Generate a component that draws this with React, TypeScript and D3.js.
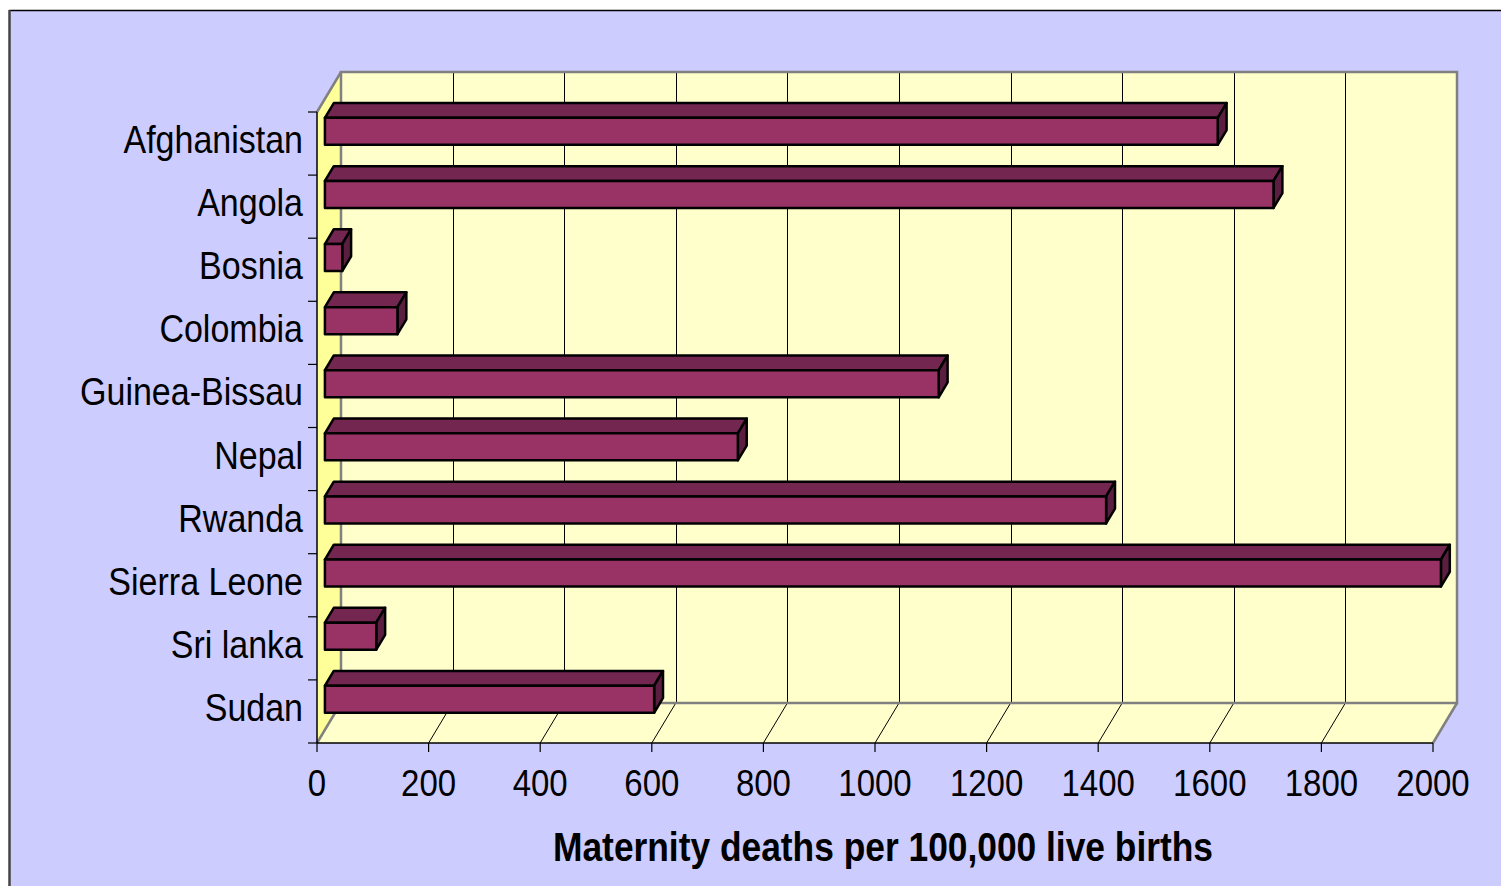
import React from "react";
import * as d3 from "d3";

const countries = [
  "Afghanistan",
  "Angola",
  "Bosnia",
  "Colombia",
  "Guinea-Bissau",
  "Nepal",
  "Rwanda",
  "Sierra Leone",
  "Sri lanka",
  "Sudan",
];
const deaths = [1600, 1700, 31, 130, 1100, 740, 1400, 2000, 92, 590];
const xTicks = [0, 200, 400, 600, 800, 1000, 1200, 1400, 1600, 1800, 2000];
const axisTitle = "Maternity deaths per 100,000 live births";

const width = 1501;
const height = 886;

// 3d depth offset of the plot box (front -> back)
const DX = 24;
const DY = 40;
const Z0 = 0.33;
const Z1 = 0.7;
const HALF = 13.5;

const x = d3.scaleLinear().domain([0, 2000]).range([317, 1433]);
const y = d3.scaleBand().domain(countries).range([112, 743]);

const proj = (v: number, yy: number, z: number): [number, number] => [
  x(v) + z * DX,
  yy - z * DY,
];
const poly = (pts: [number, number][]) =>
  "M" + pts.map((p) => p.join(",")).join("L") + "Z";

const font = "'Liberation Sans', Arial, sans-serif";

const App = () => {
  const x0 = x(0);
  const x1 = x(2000);
  const top = y.range()[0];
  const bottom = y.range()[1];
  const gray = "#808080";

  return (
    <svg
      width={width}
      height={height}
      viewBox={`0 0 ${width} ${height}`}
      style={{ position: "fixed", left: 0, top: 0, background: "#fff" }}
    >
      {/* chart area */}
      <rect x={9} y={10} width={1600} height={1000} fill="#CCCCFF" />
      <line x1={9} y1={10.5} x2={width} y2={10.5} stroke="#000" strokeWidth={1.5} />
      <line x1={9.5} y1={10} x2={9.5} y2={height} stroke="#444" strokeWidth={2.5} />

      {/* walls */}
      <rect x={x0 + DX} y={top - DY} width={x1 - x0} height={bottom - top} fill="#FFFFCC" />
      <path
        d={poly([
          [x0, bottom],
          [x0 + DX, bottom - DY],
          [x1 + DX, bottom - DY],
          [x1, bottom],
        ])}
        fill="#FFFFCC"
      />
      <path
        d={poly([
          [x0, top],
          [x0 + DX, top - DY],
          [x0 + DX, bottom - DY],
          [x0, bottom],
        ])}
        fill="#FFFF99"
      />

      {/* gridlines */}
      {xTicks.slice(1, -1).map((t) => (
        <g key={t}>
          <line
            x1={Math.round(x(t) + DX) + 0.5}
            x2={Math.round(x(t) + DX) + 0.5}
            y1={top - DY}
            y2={bottom - DY}
            stroke="#000"
            strokeWidth={1}
          />
          <line
            x1={x(t) + DX}
            y1={bottom - DY}
            x2={x(t)}
            y2={bottom}
            stroke="#000"
            strokeWidth={1}
          />
        </g>
      ))}

      {/* wall edges */}
      <g stroke={gray} strokeWidth={2.5} fill="none">
        <rect x={x0 + DX} y={top - DY} width={x1 - x0} height={bottom - top} />
        <line x1={x0} y1={top} x2={x0 + DX} y2={top - DY} />
        <line x1={x0} y1={bottom} x2={x0 + DX} y2={bottom - DY} />
        <line x1={x1} y1={bottom} x2={x1 + DX} y2={bottom - DY} />
      </g>

      {/* axes */}
      <line x1={x0} y1={top} x2={x0} y2={bottom} stroke="#000" strokeWidth={1.5} />
      <line x1={x0} y1={bottom} x2={x1} y2={bottom} stroke="#000" strokeWidth={1.5} />
      {xTicks.map((t) => (
        <line key={t} x1={x(t)} x2={x(t)} y1={bottom} y2={bottom + 9} stroke="#000" strokeWidth={1.2} />
      ))}
      {countries.map((c) => (
        <line key={c} x1={x0 - 9} x2={x0} y1={y(c)!} y2={y(c)!} stroke="#000" strokeWidth={1.2} />
      ))}
      <line x1={x0 - 9} x2={x0} y1={bottom} y2={bottom} stroke="#000" strokeWidth={1.2} />

      {/* bars */}
      {countries.map((c, i) => {
        const v = deaths[i];
        const yc = y(c)! + y.bandwidth() / 2 + 1;
        const yt = yc - HALF;
        const yb = yc + HALF;
        const front = poly([proj(0, yt, Z0), proj(v, yt, Z0), proj(v, yb, Z0), proj(0, yb, Z0)]);
        const topFace = poly([proj(0, yt, Z0), proj(v, yt, Z0), proj(v, yt, Z1), proj(0, yt, Z1)]);
        const side = poly([proj(v, yt, Z0), proj(v, yb, Z0), proj(v, yb, Z1), proj(v, yt, Z1)]);
        return (
          <g key={c} stroke="#000" strokeWidth={2.5} strokeLinejoin="round">
            <path d={topFace} fill="#732650" />
            <path d={side} fill="#5a1f40" />
            <path d={front} fill="#993366" />
          </g>
        );
      })}

      {/* category labels */}
      {countries.map((c) => (
        <text
          key={c}
          transform={`translate(303,${y(c)! + y.bandwidth() / 2 + 9.5}) scale(1,1.13)`}
          textAnchor="end"
          fontFamily={font}
          fontSize={34}
          fill="#000"
        >
          {c}
        </text>
      ))}

      {/* value labels */}
      {xTicks.map((t) => (
        <text
          key={t}
          transform={`translate(${x(t)},796) scale(1,1.1)`}
          textAnchor="middle"
          fontFamily={font}
          fontSize={33}
          fill="#000"
        >
          {t}
        </text>
      ))}

      <text
        transform={`translate(883,861) scale(1,1.14)`}
        textAnchor="middle"
        fontFamily={font}
        fontSize={35}
        fontWeight="bold"
        textLength={660}
        lengthAdjust="spacingAndGlyphs"
        fill="#000"
      >
        {axisTitle}
      </text>
    </svg>
  );
};

export default App;
